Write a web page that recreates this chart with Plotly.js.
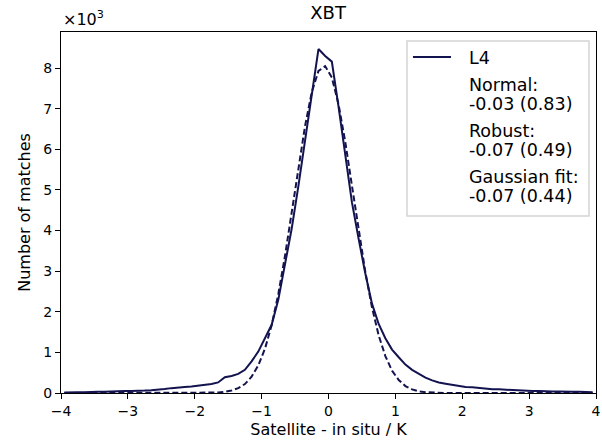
<!DOCTYPE html>
<html>
<head>
<meta charset="utf-8">
<script src="https://cdn.plot.ly/plotly-3.0.1.min.js"></script>
<style>html,body{margin:0;padding:0;background:#fff}#chart{width:602px;height:443px}</style>
</head>
<body>
<div id="chart"></div>
<script>
// Bin centres (K) for satellite - in situ differences
const binCentres = [-3.95,-3.85,-3.75,-3.65,-3.55,-3.45,-3.35,-3.25,-3.15,-3.05,
  -2.95,-2.85,-2.75,-2.65,-2.55,-2.45,-2.35,-2.25,-2.15,-2.05,
  -1.95,-1.85,-1.75,-1.65,-1.55,-1.45,-1.35,-1.25,-1.15,-1.05,
  -0.95,-0.85,-0.75,-0.65,-0.55,-0.45,-0.35,-0.25,-0.15,-0.05,
  0.05,0.15,0.25,0.35,0.45,0.55,0.65,0.75,0.85,0.95,
  1.05,1.15,1.25,1.35,1.45,1.55,1.65,1.75,1.85,1.95,
  2.05,2.15,2.25,2.35,2.45,2.55,2.65,2.75,2.85,2.95,
  3.05,3.15,3.25,3.35,3.45,3.55,3.65,3.75,3.85,3.95];
// L4 histogram counts (x10^3)
const l4Counts = [0.01,0.02,0.02,0.02,0.03,0.03,0.03,0.04,0.04,0.05,
  0.05,0.05,0.06,0.07,0.08,0.10,0.12,0.14,0.15,0.16,
  0.18,0.20,0.22,0.26,0.39,0.42,0.47,0.57,0.78,1.02,
  1.35,1.68,2.30,3.15,4.05,5.10,6.20,7.30,8.47,8.30,
  8.16,7.05,5.85,4.70,3.80,2.95,2.20,1.70,1.35,1.07,
  0.88,0.70,0.57,0.47,0.38,0.31,0.26,0.23,0.20,0.17,
  0.15,0.14,0.12,0.11,0.09,0.09,0.08,0.08,0.06,0.06,
  0.05,0.05,0.04,0.04,0.04,0.03,0.03,0.03,0.02,0.02];
// Gaussian fit curve (x10^3)
const fitCounts = [0,0,0,0,0,0,0,0,0,0,
  0,0,0,0,0,0,0,0,0,0,
  0,0,0,0.01,0.03,0.06,0.12,0.22,0.40,0.68,
  1.09,1.67,2.44,3.38,4.45,5.55,6.58,7.41,7.93,8.05,
  7.77,7.11,6.19,5.11,4.01,2.99,2.11,1.42,0.91,0.55,
  0.32,0.17,0.09,0.04,0.02,0.01,0,0,0,0,
  0,0,0,0,0,0,0,0,0,0,
  0,0,0,0,0,0,0,0,0,0];
const xTicks = [-4,-3,-2,-1,0,1,2,3,4];
const yTicks = [0,1,2,3,4,5,6,7,8];
const seriesName = 'L4';
const legendLines = ['Normal:', '-0.03 (0.83)', 'Robust:', '-0.07 (0.49)', 'Gaussian fit:', '-0.07 (0.44)'];

const navy = '#13134f';
const traces = [
  {x: binCentres, y: l4Counts, mode: 'lines', name: seriesName, line: {color: navy, width: 2}},
  {x: binCentres, y: fitCounts, mode: 'lines', name: 'Gaussian fit', line: {color: navy, width: 2, dash: '6px,3px'}}
];

const fam = 'DejaVu Sans, sans-serif';
const tickFont = {family: fam, size: 14, color: '#000'};
const labelFont = {family: fam, size: 16, color: '#000'};
const legFont = {family: fam, size: 17.5, color: '#000'};

// legend geometry in paper coordinates
const legX0 = 0.6467, legX1 = 0.9869, legY0 = 0.4903, legY1 = 0.975;
const textX = 0.7589;
const rowY = [0.9307, 0.8560, 0.8033, 0.7285, 0.6759, 0.6011, 0.5485];

const annotations = [
  {text: '×10<sup>3</sup>', xref: 'paper', yref: 'paper', x: 0, y: 1, xanchor: 'left', yanchor: 'bottom',
    showarrow: false, font: labelFont, yshift: 1},
  {text: seriesName, xref: 'paper', yref: 'paper', x: textX, y: rowY[0], xanchor: 'left', yanchor: 'middle',
    showarrow: false, font: legFont, yshift: -1}
];
legendLines.forEach((t, i) => annotations.push({text: t, xref: 'paper', yref: 'paper', x: textX, y: rowY[i + 1],
  xanchor: 'left', yanchor: 'middle', showarrow: false, font: legFont, yshift: -1}));

const layout = {
  width: 602, height: 443,
  margin: {l: 61, r: 6, t: 32, b: 50},
  paper_bgcolor: '#fff', plot_bgcolor: '#fff',
  font: tickFont,
  showlegend: false,
  title: {text: 'XBT', font: {family: fam, size: 18, color: '#000'}, x: 0.545, xanchor: 'center', y: 0.985, yanchor: 'top'},
  xaxis: {range: [-4, 4], tickvals: xTicks, ticks: 'outside', ticklen: 5, tickwidth: 1, tickcolor: '#000',
    showgrid: false, zeroline: false, showline: true, linecolor: '#000', linewidth: 1, mirror: true,
    tickfont: tickFont, title: {text: 'Satellite - in situ / K', font: labelFont, standoff: 6}},
  yaxis: {range: [0, 8.89], tickvals: yTicks, ticks: 'outside', ticklen: 5, tickwidth: 1, tickcolor: '#000',
    showgrid: false, zeroline: false, showline: true, linecolor: '#000', linewidth: 1, mirror: true,
    tickfont: tickFont, title: {text: 'Number of matches', font: labelFont, standoff: 8}},
  shapes: [
    {type: 'rect', xref: 'paper', yref: 'paper', x0: legX0, x1: legX1, y0: legY0, y1: legY1,
      line: {color: '#d4d4d4', width: 1.5}, fillcolor: 'rgba(255,255,255,0.85)', layer: 'above'},
    {type: 'line', xref: 'paper', yref: 'paper', x0: 0.6579, x1: 0.7290, y0: rowY[0], y1: rowY[0],
      line: {color: navy, width: 2}, layer: 'above'}
  ],
  annotations: annotations
};
Plotly.newPlot('chart', traces, layout, {displayModeBar: false, staticPlot: true});
</script>
</body>
</html>
